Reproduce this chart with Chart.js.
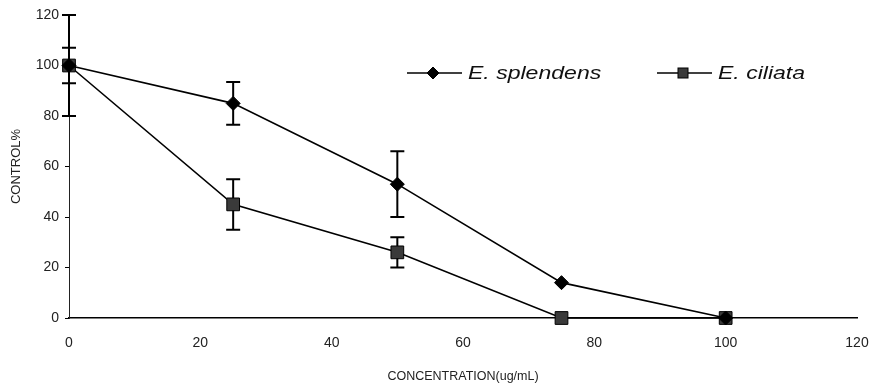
<!DOCTYPE html>
<html>
<head>
<meta charset="utf-8">
<script src="https://cdn.jsdelivr.net/npm/chart.js@4/dist/chart.umd.min.js"></script>
<style>
  html, body { margin: 0; padding: 0; background: #fff; }
  #wrap { width: 881px; height: 388px; }
</style>
</head>
<body>
<div id="wrap"><canvas id="c" width="881" height="388"></canvas></div>
<script>
const concentrations = [0, 25, 50, 75, 100];
const splendensValues = [100, 85, 53, 14, 0];
const splendensErrors = [20, 8.5, 13, 0, 0];
const ciliataValues = [100, 45, 26, 0, 0];
const ciliataErrors = [7, 10, 6, 0, 0];
const seriesLabels = ['E. splendens', 'E. ciliata'];
const xTicks = [0, 20, 40, 60, 80, 100, 120];
const yTicks = [0, 20, 40, 60, 80, 100, 120];

const toPoints = (vals) => concentrations.map((x, i) => ({ x: x, y: vals[i] }));

const errorBarPlugin = {
  id: 'errorBars',
  beforeDatasetsDraw(chart) {
    const ctx = chart.ctx;
    const xs = chart.scales.x, ys = chart.scales.y;
    const errs = [splendensErrors, ciliataErrors];
    ctx.save();
    ctx.strokeStyle = '#000';
    ctx.lineWidth = 2;
    chart.data.datasets.forEach((ds, di) => {
      ds.data.forEach((p, i) => {
        const e = errs[di][i];
        if (!e) return;
        const px = xs.getPixelForValue(p.x);
        const top = ys.getPixelForValue(p.y + e);
        const bot = ys.getPixelForValue(p.y - e);
        ctx.beginPath();
        ctx.moveTo(px, top); ctx.lineTo(px, bot);
        ctx.moveTo(px - 7, top); ctx.lineTo(px + 7, top);
        ctx.moveTo(px - 7, bot); ctx.lineTo(px + 7, bot);
        ctx.stroke();
      });
    });
    ctx.restore();
  }
};

const legendPlugin = {
  id: 'inlineLegend',
  afterDatasetsDraw(chart) {
    const ctx = chart.ctx;
    const items = [
      { x0: 407, y: 73, ds: chart.data.datasets[0] },
      { x0: 657, y: 73, ds: chart.data.datasets[1] }
    ];
    ctx.save();
    items.forEach((it) => {
      ctx.strokeStyle = '#000';
      ctx.lineWidth = 1.5;
      ctx.beginPath();
      ctx.moveTo(it.x0, it.y); ctx.lineTo(it.x0 + 55, it.y);
      ctx.stroke();
      const mx = it.x0 + 26;
      ctx.fillStyle = it.ds.pointBackgroundColor;
      ctx.strokeStyle = '#000';
      ctx.lineWidth = 1;
      if (it.ds.pointStyle === 'rectRot') {
        ctx.beginPath();
        ctx.moveTo(mx, it.y - 6); ctx.lineTo(mx + 6, it.y);
        ctx.lineTo(mx, it.y + 6); ctx.lineTo(mx - 6, it.y);
        ctx.closePath(); ctx.fill(); ctx.stroke();
      } else {
        ctx.fillRect(mx - 5, it.y - 5, 10, 10);
        ctx.strokeRect(mx - 5, it.y - 5, 10, 10);
      }
      ctx.save();
      ctx.translate(it.x0 + 61, it.y);
      ctx.scale(1.28, 1);
      ctx.fillStyle = '#111';
      ctx.font = 'italic 18px "Liberation Sans", Arial, sans-serif';
      ctx.textBaseline = 'middle';
      ctx.textAlign = 'left';
      ctx.fillText(it.ds.label, 0, 1);
      ctx.restore();
    });
    ctx.restore();
  }
};

new Chart(document.getElementById('c'), {
  type: 'line',
  data: {
    datasets: [
      {
        label: seriesLabels[0],
        data: toPoints(splendensValues),
        borderColor: '#000',
        borderWidth: 1.6,
        pointStyle: 'rectRot',
        pointRadius: 7,
        pointBackgroundColor: '#000',
        pointBorderColor: '#000',
        pointBorderWidth: 1,
        tension: 0,
        clip: false
      },
      {
        label: seriesLabels[1],
        data: toPoints(ciliataValues),
        borderColor: '#000',
        borderWidth: 1.6,
        pointStyle: 'rect',
        pointRadius: 9,
        pointBackgroundColor: '#3a3a3a',
        pointBorderColor: '#000',
        pointBorderWidth: 1,
        tension: 0,
        clip: false
      }
    ]
  },
  options: {
    responsive: false,
    animation: false,
    devicePixelRatio: 1,
    layout: { padding: { top: 15, right: 24, left: 0, bottom: 0 } },
    plugins: { legend: { display: false }, tooltip: { enabled: false } },
    scales: {
      x: {
        type: 'linear',
        min: 0, max: 120,
        afterBuildTicks(scale) { scale.ticks = xTicks.map(v => ({ value: v })); },
        afterFit(scale) { scale.height = 70; scale.paddingLeft = 0; scale.paddingRight = 0; },
        grid: { display: true, drawOnChartArea: false, drawTicks: false },
        border: { display: true, color: '#000', width: 1.5 },
        ticks: { color: '#222', font: { family: '"Liberation Sans", Arial, sans-serif', size: 14 }, padding: 17, maxRotation: 0 },
        title: { display: true, text: 'CONCENTRATION(ug/mL)', color: '#222',
          font: { family: '"Liberation Sans", Arial, sans-serif', size: 12.5 }, padding: { top: 0, bottom: 4 } }
      },
      y: {
        min: 0, max: 120,
        afterBuildTicks(scale) { scale.ticks = yTicks.map(v => ({ value: v })); },
        afterFit(scale) { scale.width = 69; scale.paddingTop = 0; scale.paddingBottom = 0; },
        grid: { display: true, drawOnChartArea: false, drawTicks: true, tickLength: 4, color: '#000' },
        border: { display: true, color: '#222', width: 1 },
        ticks: { color: '#222', font: { family: '"Liberation Sans", Arial, sans-serif', size: 14 }, padding: 6 },
        title: { display: true, text: 'CONTROL%', color: '#222',
          font: { family: '"Liberation Sans", Arial, sans-serif', size: 13 }, padding: { top: 9, bottom: 0 } }
      }
    }
  },
  plugins: [errorBarPlugin, legendPlugin]
});
</script>
</body>
</html>
